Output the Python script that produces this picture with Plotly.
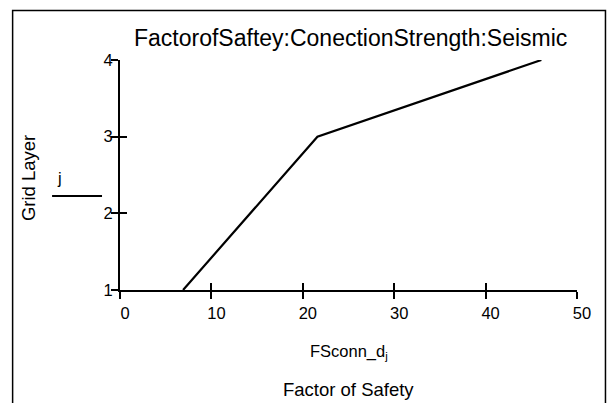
import plotly.graph_objects as go

# Data
fs_conn = [6.9, 21.6, 46.1]      # FSconn_d_j (factor of safety)
grid_layer = [1, 3, 4]           # j (grid layer)
x_ticks = [0, 10, 20, 30, 40, 50]
y_ticks = [1, 2, 3, 4]

title_text = "FactorofSaftey:ConectionStrength:Seismic"
y_title = "Grid Layer"
x_expr = "FSconn_d<sub>j</sub>"
x_title = "Factor of Safety"
y_expr = "j"

W, H = 610, 403
L, R = 120, 577.5   # plot area pixel bounds
T, B = 60, 290

def px(x):
    return (x - L) / (R - L)

def py(y):
    return (B - y) / (B - T)

FONT = "Liberation Sans, Arial, sans-serif"

fig = go.Figure()
fig.add_trace(go.Scatter(x=fs_conn, y=grid_layer, mode="lines",
                         line=dict(color="black", width=2.2),
                         showlegend=False, hoverinfo="skip"))
# invisible trace to carry the overlay axes (for cross ticks)
fig.add_trace(go.Scatter(x=fs_conn, y=grid_layer, mode="lines",
                         line=dict(color="rgba(0,0,0,0)", width=0),
                         xaxis="x2", yaxis="y2",
                         showlegend=False, hoverinfo="skip"))

axis_common = dict(showgrid=False, zeroline=False, showline=True,
                   linecolor="black", linewidth=2, tickcolor="black",
                   tickwidth=2, ticklen=7)

fig.update_layout(
    width=W, height=H, autosize=False,
    margin=dict(l=L, r=W - R, t=T, b=H - B, pad=0),
    paper_bgcolor="white", plot_bgcolor="white",
    font=dict(family=FONT, color="black", size=16),
    xaxis=dict(range=[0, 50], tickvals=x_ticks, ticks="outside",
               tickfont=dict(size=16.5), ticklabelshift=5,
               ticklabelstandoff=0, **axis_common),
    yaxis=dict(range=[1, 4], tickvals=y_ticks, ticks="outside",
               tickfont=dict(size=16.5), ticklabelstandoff=-5,
               **axis_common),
    xaxis2=dict(range=[0, 50], tickvals=x_ticks, ticks="inside",
                overlaying="x", showticklabels=False, **axis_common),
    yaxis2=dict(range=[1, 4], tickvals=y_ticks, ticks="inside",
                overlaying="y", showticklabels=False, **axis_common),
    annotations=[
        dict(text=title_text, x=px(350.5), y=py(38), xref="paper", yref="paper",
             showarrow=False, font=dict(size=23), xanchor="center", yanchor="middle"),
        dict(text=y_title, x=px(28), y=py(178), xref="paper", yref="paper",
             showarrow=False, font=dict(size=18.5), textangle=-90,
             xanchor="center", yanchor="middle"),
        dict(text=y_expr, x=px(59), y=py(178), xref="paper", yref="paper",
             showarrow=False, font=dict(size=16.5), xanchor="center", yanchor="middle"),
        dict(text=x_expr, x=px(349), y=py(352), xref="paper", yref="paper",
             showarrow=False, font=dict(size=16.5), xanchor="center", yanchor="middle"),
        dict(text=x_title, x=px(349), y=py(389), xref="paper", yref="paper",
             showarrow=False, font=dict(size=18.5), xanchor="center", yanchor="middle"),
    ],
    shapes=[
        dict(type="rect", xref="paper", yref="paper",
             x0=px(12.5), x1=px(606), y0=py(430), y1=py(10.5),
             line=dict(color="black", width=1.5)),
        dict(type="line", xref="paper", yref="paper",
             x0=px(52), x1=px(102), y0=py(196), y1=py(196),
             line=dict(color="black", width=2)),
    ],
)

fig.write_html("out.html")
